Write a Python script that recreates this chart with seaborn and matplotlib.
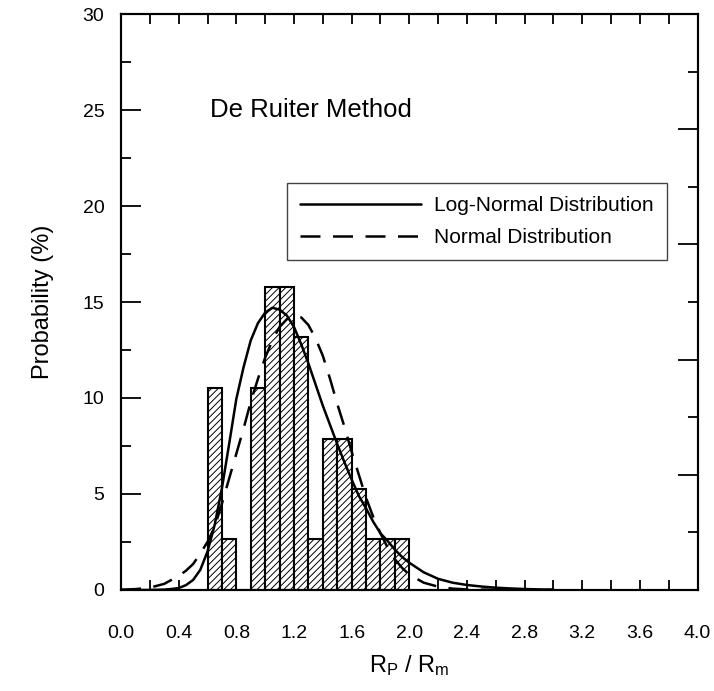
import numpy as np
import pandas as pd
import matplotlib
matplotlib.use("Agg")
import matplotlib.pyplot as plt
from matplotlib.ticker import MultipleLocator, FormatStrFormatter
from matplotlib.lines import Line2D
import seaborn as sns

# ---- data ----
bin_left = [0.6, 0.7, 0.8, 0.9, 1.0, 1.1, 1.2, 1.3, 1.4, 1.5, 1.6, 1.7, 1.8, 1.9]
bin_prob = [10.53, 2.63, 0.0, 10.53, 15.79, 15.79, 13.16, 2.63, 7.89, 7.89, 5.26, 2.63, 2.63, 2.63]
bin_width = 0.1

logn_x = [0.0, 0.1, 0.2, 0.3, 0.35, 0.4, 0.45, 0.5, 0.55, 0.6, 0.65, 0.7, 0.75, 0.8, 0.85,
          0.9, 0.95, 1.0, 1.05, 1.1, 1.15, 1.2, 1.25, 1.3, 1.35, 1.4, 1.45, 1.5, 1.55,
          1.6, 1.65, 1.7, 1.75, 1.8, 1.85, 1.9, 1.95, 2.0, 2.1, 2.2, 2.3, 2.4, 2.5, 2.6,
          2.7, 2.8, 2.9, 3.0]
logn_y = [0.0, 0.0, 0.0, 0.02, 0.05, 0.1, 0.25, 0.52, 1.05, 2.0, 3.4, 5.3, 7.6, 9.95, 11.6,
          13.0, 13.9, 14.45, 14.7, 14.6, 14.3, 13.7, 12.8, 11.8, 10.7, 9.6, 8.6, 7.6, 6.65,
          5.75, 4.9, 4.25, 3.55, 2.95, 2.55, 2.1, 1.72, 1.42, 0.92, 0.58, 0.38, 0.26, 0.18, 0.12,
          0.08, 0.05, 0.03, 0.02]

norm_x = [0.0, 0.1, 0.2, 0.3, 0.4, 0.45, 0.5, 0.55, 0.6, 0.65, 0.7, 0.75, 0.8, 0.85, 0.9,
          0.95, 1.0, 1.05, 1.1, 1.15, 1.2, 1.25, 1.3, 1.35, 1.4, 1.45, 1.5, 1.55, 1.6, 1.65,
          1.7, 1.75, 1.8, 1.85, 1.9, 1.95, 2.0, 2.1, 2.2, 2.3, 2.4, 2.6, 2.8, 3.0]
norm_y = [0.015, 0.045, 0.12, 0.32, 0.73, 1.0, 1.35, 1.9, 2.5, 3.3, 4.5, 5.8, 7.1, 8.4, 9.8,
          11.0, 12.1, 13.0, 13.7, 14.1, 14.27, 14.2, 13.8, 13.1, 12.2, 11.0, 9.7, 8.5, 7.2, 6.0,
          4.8, 3.8, 2.95, 2.2, 1.6, 1.15, 0.8, 0.38, 0.17, 0.07, 0.03, 0.01, 0.0, 0.0]

x_ticks = [0.0, 0.4, 0.8, 1.2, 1.6, 2.0, 2.4, 2.8, 3.2, 3.6, 4.0]
y_ticks = [0, 5, 10, 15, 20, 25, 30]
title_text = "De Ruiter Method"
legend_labels = ["Log-Normal Distribution", "Normal Distribution"]

# ---- style ----
sns.set_style("ticks")
plt.rcParams["font.family"] = ["Liberation Sans", "DejaVu Sans"]
plt.rcParams["mathtext.fontset"] = "custom"
plt.rcParams["mathtext.rm"] = "Liberation Sans"
plt.rcParams["mathtext.it"] = "Liberation Sans:italic"
plt.rcParams["hatch.linewidth"] = 0.7
plt.rcParams["hatch.color"] = "black"
for k in ["text.color", "axes.labelcolor", "xtick.color", "ytick.color", "axes.edgecolor"]:
    plt.rcParams[k] = "black"

fig = plt.figure(figsize=(7.14, 6.91), dpi=100)
ax = fig.add_axes([0.1695, 0.1462, 0.8075, 0.8335])

centers = [b + bin_width / 2 for b in bin_left]
edges = list(bin_left) + [bin_left[-1] + bin_width]
hist_df = pd.DataFrame({"x": centers, "w": bin_prob})
sns.histplot(data=hist_df, x="x", weights="w", bins=edges, stat="count",
             color="white", edgecolor="black", linewidth=1.5, alpha=1, ax=ax)
for p in ax.patches:
    p.set_hatch("/////")
    p.set_facecolor("white")

logn_df = pd.DataFrame({"x": logn_x, "y": logn_y})
norm_df = pd.DataFrame({"x": norm_x, "y": norm_y})
sns.lineplot(data=logn_df, x="x", y="y", color="black", linewidth=1.8,
             estimator=None, sort=False, ax=ax)
sns.lineplot(data=norm_df, x="x", y="y", color="black", linewidth=1.8,
             estimator=None, sort=False, ax=ax, linestyle=(0, (8, 5)))

ax.set_xlim(0, 4)
ax.set_ylim(0, 30)
ax.set_xticks(x_ticks)
ax.xaxis.set_major_formatter(FormatStrFormatter("%.1f"))
ax.xaxis.set_minor_locator(MultipleLocator(0.2))
ax.set_yticks(y_ticks)
ax.yaxis.set_minor_locator(MultipleLocator(2.5))

ax.tick_params(axis="x", which="both", direction="in", length=7.2, width=1.3,
               top=True, labelsize=14, pad=25)
ax.tick_params(axis="y", which="major", direction="in", length=14.4, width=1.3,
               labelsize=14, pad=12)
ax.tick_params(axis="y", which="minor", direction="in", length=7.2, width=1.3)
for s in ax.spines.values():
    s.set_linewidth(1.5)
    s.set_color("black")

ax2 = ax.twinx()
ax2.set_ylim(0, 30)
ax2.yaxis.set_major_locator(MultipleLocator(6))
ax2.yaxis.set_minor_locator(MultipleLocator(3))
ax2.tick_params(axis="y", which="major", direction="in", length=14.4, width=1.3, labelright=False)
ax2.tick_params(axis="y", which="minor", direction="in", length=7.2, width=1.3, labelright=False)
for s in ax2.spines.values():
    s.set_linewidth(1.5)
    s.set_color("black")

ax.set_xlabel(r"$\mathrm{R_P\ /\ R_m}$", fontsize=17)
ax.set_ylabel("Probability (%)", fontsize=17)
ax.xaxis.set_label_coords(0.5, -0.11)
ax.yaxis.set_label_coords(-0.116, 0.5)

ax.text(0.62, 25.0, title_text, fontsize=18.5, va="center", ha="left")

handles = [Line2D([0], [0], color="black", linewidth=1.8),
           Line2D([0], [0], color="black", linewidth=1.8, linestyle=(0, (8, 5)))]
leg = ax.legend(handles, legend_labels, loc="upper left", bbox_to_anchor=(0.288, 0.7066),
                borderaxespad=0, fontsize=15, handlelength=5.8, handletextpad=0.65,
                labelspacing=0.62, borderpad=0.62, fancybox=False, framealpha=1,
                edgecolor="#444444")
leg.get_frame().set_linewidth(1.0)

fig.savefig("out.png", dpi=100)
